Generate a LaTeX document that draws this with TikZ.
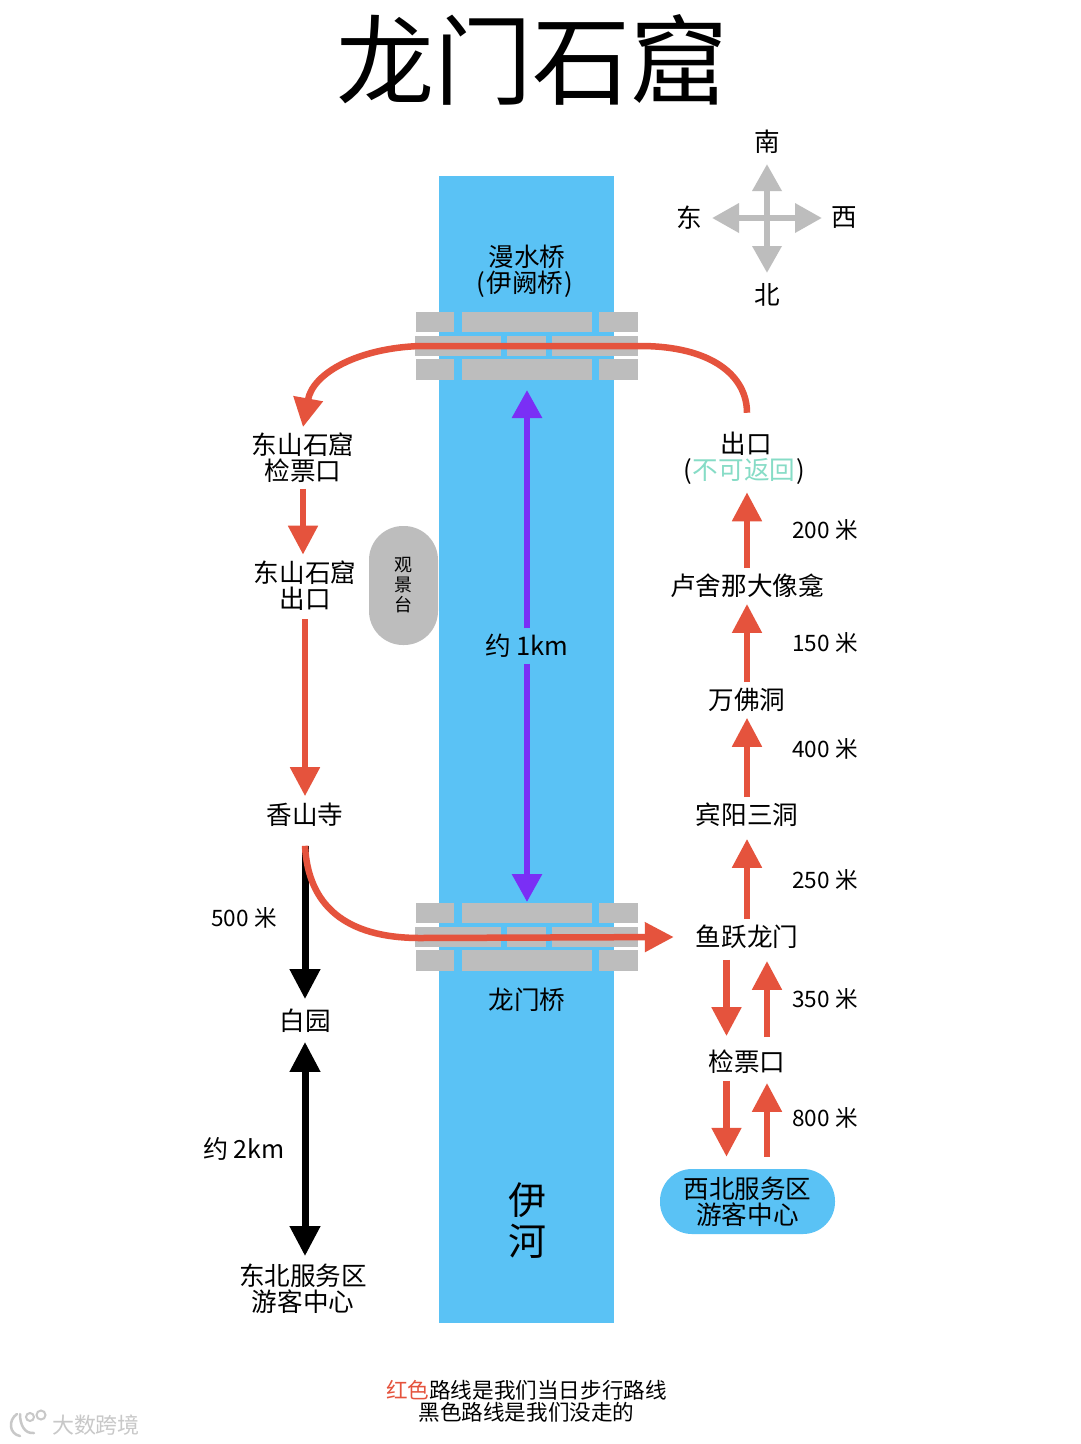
\documentclass[tikz,border=0pt]{standalone}
\usepackage{fontspec}
\setmainfont{Noto Sans CJK SC}
\usetikzlibrary{arrows.meta}
\definecolor{river}{HTML}{5AC2F5}
\definecolor{brick}{HTML}{BDBDBD}
\definecolor{redroute}{HTML}{E5533D}
\definecolor{purp}{HTML}{7A2FF5}
\definecolor{mint}{HTML}{86DCC6}
\definecolor{wm}{HTML}{C8C8C8}
\tikzset{
  x=1pt,y=-1pt,
  lbl/.style={inner xsep=1pt,inner ysep=6pt,outer sep=0pt,align=center,font=\fontsize{25.6}{26}\selectfont},
  dist/.style={inner sep=0pt,font=\fontsize{22.6}{24}\selectfont},
  redarrow/.style={draw=redroute,line width=6.5pt,-{Triangle[length=29pt,width=28.5pt]}},
  blackarrow/.style={draw=black,line width=7pt,-{Triangle[length=30pt,width=29pt]}},
  blackdouble/.style={draw=black,line width=7pt,{Triangle[length=30pt,width=29pt]}-{Triangle[length=30pt,width=29pt]}},
  purparrow/.style={draw=purp,line width=6pt,-{Triangle[length=28pt,width=29pt]}},
  greyarrow/.style={draw=brick,line width=6.5pt,-{Triangle[length=27pt,width=28pt]}},
  compasslbl/.style={inner sep=0pt,font=\fontsize{25.6}{26}\selectfont},
}
\newcommand{\bridge}[1]{%
  \begin{scope}[yshift=-#1 pt]
    \fill[brick] (416,0) rectangle (454,20);
    \fill[brick] (462,0) rectangle (592,20);
    \fill[brick] (599,0) rectangle (638,20);
    \fill[brick] (415,24) rectangle (501,44);
    \fill[brick] (507,24) rectangle (546,44);
    \fill[brick] (552,24) rectangle (638,44);
    \fill[brick] (416,47) rectangle (454,68);
    \fill[brick] (462,47) rectangle (592,68);
    \fill[brick] (599,47) rectangle (638,68);
  \end{scope}}
\begin{document}
\begin{tikzpicture}
\useasboundingbox (0,0) rectangle (1080,1444);
\fill[white] (0,0) rectangle (1080,1444);
% title
\node[inner sep=0pt,font=\fontsize{98}{98}\selectfont] (title) at (532,60) {龙门石窟};
% river
\node[fill=river,minimum width=175pt,minimum height=1147pt,inner sep=0pt,anchor=north west] (riverbox) at (439,176) {};
\bridge{311.5}
\bridge{903}
% river labels
\node[lbl] (manshui) at (525,271) {\hspace*{4pt}漫水桥\\(\kern1pt 伊阙桥\kern1pt)};
\node[lbl] (longmenq) at (527,1000) {龙门桥};
\node[inner sep=0pt,align=center,font=\fontsize{38}{41}\selectfont] (yihe) at (527,1221) {伊\\河};
\node[lbl] (onekm) at (527,646) {约 1km};
\coordinate (purptop) at (527,390);
\coordinate (purpbot) at (527,902);
\draw[purparrow] (onekm) -- (purptop);
\draw[purparrow] (onekm) -- (purpbot);
% left nodes
\node[lbl] (dticket) at (303,458) {东山石窟\\检票口};
\node[lbl] (dexit) at (305,585.5) {东山石窟\\出口};
\node[lbl] (xiangshan) at (305,815) {香山寺};
\node[lbl] (baiyuan) at (305,1021) {白园};
\node[lbl] (dbservice) at (303,1289) {东北服务区\\游客中心};
\node[dist] (d500) at (244,918) {500 米};
\node[dist,font=\fontsize{25}{26}\selectfont] (d2km) at (244,1149) {约 2km};
\node[fill=brick,rounded corners=34pt,minimum width=69pt,minimum height=119pt,inner sep=0pt] (guanjing) at (403.5,585.5) {};
\node[inner sep=0pt,align=center,font=\fontsize{18}{20}\selectfont] (guanjingt) at (403,585) {观\\景\\台};
% right nodes
\node[lbl] (exit) at (744,458) {\hspace*{5pt}出口\\(\kern1pt\textcolor{mint}{不可返回}\kern1pt)};
\node[lbl] (luzhe) at (747,586) {卢舍那大像龛};
\node[lbl] (wanfo) at (747,700) {万佛洞};
\node[lbl] (binyang) at (747,815) {宾阳三洞};
\node[lbl] (yuyue) at (747,937) {鱼跃龙门};
\node[lbl] (jianpiao) at (747,1062) {检票口};
\node[fill=river,rounded corners=32pt,minimum width=175pt,minimum height=65pt,inner sep=0pt,align=center,font=\fontsize{25.6}{26}\selectfont] (xbservice) at (747.5,1201.5) {西北服务区\\游客中心};
\node[dist] (d200) at (825,530) {200 米};
\node[dist] (d150) at (825,643) {150 米};
\node[dist] (d400) at (825,749) {400 米};
\node[dist] (d250) at (825,880) {250 米};
\node[dist] (d350) at (825,999) {350 米};
\node[dist] (d800) at (825,1118) {800 米};
% black routes (under red)
\draw[blackarrow,shorten >=4pt] ([yshift=-13pt]xiangshan.south) -- (baiyuan.north);
\draw[blackdouble,shorten >=2pt,shorten <=3pt] (baiyuan.south) -- (baiyuan.south |- dbservice.north);
% red routes
\draw[redarrow] ([yshift=13pt]exit.north -| luzhe.north) .. controls (747,376) and (712,346) .. (640,346) -- (420,346) .. controls (360,348) and (313,372) .. (dticket.north);
\draw[redarrow] (dticket.south) -- (dticket.south |- dexit.north);
\draw[redarrow,shorten >=1pt] ([yshift=-3pt]dexit.south) -- (xiangshan.north);
\draw[redarrow] ([yshift=-13pt]xiangshan.south) .. controls (308,905) and (345,938) .. (420,938) -- ([xshift=-21pt]yuyue.west);
\draw[redarrow,shorten >=2pt] (luzhe.north) -- (luzhe.north |- exit.south);
\draw[redarrow] (wanfo.north) -- (luzhe.south);
\draw[redarrow] (binyang.north) -- (wanfo.south);
\draw[redarrow,shorten >=6pt] (yuyue.north) -- (binyang.south);
\draw[redarrow,shorten <=5pt,shorten >=8pt] ([xshift=-20.5pt]yuyue.south) -- ([xshift=-20.5pt]yuyue.south |- jianpiao.north);
\draw[redarrow,shorten <=7pt,shorten >=6pt] ([xshift=20pt]jianpiao.north) -- ([xshift=20pt]jianpiao.north |- yuyue.south);
\draw[redarrow,shorten <=1pt,shorten >=12pt] ([xshift=-20.5pt]jianpiao.south) -- ([xshift=-20.5pt]jianpiao.south |- xbservice.north);
\draw[redarrow,shorten <=12pt,shorten >=3pt] ([xshift=20pt]jianpiao.south |- xbservice.north) -- ([xshift=20pt]jianpiao.south);
% compass
\coordinate (cc) at (767,218);
\node[compasslbl] (nan) at (767,142) {南};
\node[compasslbl] (bei) at (767,295) {北};
\node[compasslbl] (dong) at (689,218) {东};
\node[compasslbl] (xi) at (844,218) {西};
\coordinate (ct) at (767,164);
\coordinate (cb) at (767,273);
\coordinate (cl) at (712,218);
\coordinate (cr) at (822,218);
\draw[greyarrow] (cc) -- (ct);
\draw[greyarrow] (cc) -- (cb);
\draw[greyarrow] (cc) -- (cl);
\draw[greyarrow] (cc) -- (cr);
% legend
\node[inner sep=0pt,align=center,font=\fontsize{21.6}{22}\selectfont] (legend) at (526.5,1401.5) {\textcolor{redroute}{红色}路线是我们当日步行路线\\黑色路线是我们没走的};
% watermark
\node[inner sep=0pt,text=wm,font=\fontsize{22}{22}\selectfont] (wmark) at (96,1425) {大数跨境};
\draw[wm,line width=2.5pt,line cap=round] (17,1414) .. controls (8,1420) and (9,1434) .. (20,1436);
\draw[wm,line width=2.5pt,line cap=round] (20,1414) .. controls (20,1424) and (24,1434) .. (34,1433);
\draw[wm,line width=2pt] (30,1417) circle (4pt);
\draw[wm,line width=2pt] (41,1415) circle (4.5pt);
\end{tikzpicture}
\end{document}
